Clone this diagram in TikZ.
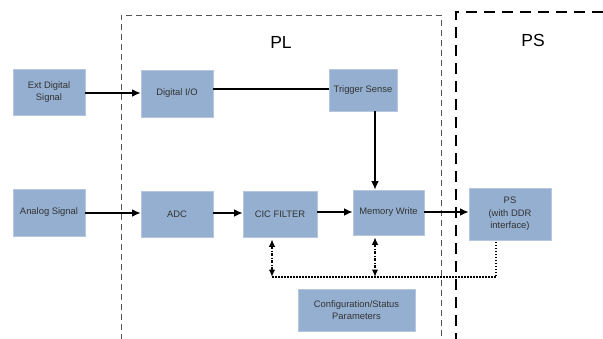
\documentclass[tikz,border=0pt]{standalone}
\usepackage{fontspec}
\setmainfont{Liberation Sans}
\usetikzlibrary{arrows.meta,calc}
\definecolor{boxblue}{HTML}{95AFD0}
\definecolor{boxedge}{HTML}{B5C6DE}
\definecolor{txt}{HTML}{333333}
\definecolor{plgray}{HTML}{555555}
\tikzset{
  blk/.style={fill=boxblue, draw=boxedge, line width=0.6pt, inner sep=0pt, align=center,
    text=txt, font=\fontsize{9.4}{12.5}\selectfont},
  flow/.style={line width=1.4pt, -{Latex[length=8.5pt,width=7.5pt]}},
  plain/.style={line width=1.4pt},
  ctl/.style={line width=1.4pt, dash pattern=on 3pt off 1.5pt on 1pt off 1.5pt,
    {Latex[length=7.5pt,width=6.5pt]}-{Latex[length=7.5pt,width=6.5pt]}},
  bus/.style={line width=1.4pt, dash pattern=on 1.5pt off 1.5pt},
  plframe/.style={draw=plgray, line width=0.8pt, dash pattern=on 6pt off 4pt},
  psframe/.style={draw=black, line width=1.6pt, dash pattern=on 11pt off 7pt},
  title/.style={font=\fontsize{17.5}{20}\selectfont, text=black}
}
\begin{document}
\begin{tikzpicture}[x=1pt,y=-1pt]
\useasboundingbox (0,0) rectangle (603,338);
% frames
\draw[plframe] (121,340) -- (121,15) -- (441,15) -- (441,340);
\draw[psframe] (603,12) -- (456,12) -- (456,340);
\node[title] (pl) at (281,42) {PL};
\node[title] (pst) at (533,40) {PS};
% blocks
\node[blk, minimum width=72pt, minimum height=46pt] (ext) at (49,92) {Ext Digital\\Signal};
\node[blk, minimum width=72pt, minimum height=47pt] (dio) at (177,93.5) {Digital I/O};
\node[blk, minimum width=68pt, minimum height=42pt] (trig) at (363,90) {Trigger Sense};
\node[blk, minimum width=72pt, minimum height=47pt] (ana) at (49,212.5) {Analog Signal};
\node[blk, minimum width=72pt, minimum height=46pt] (adc) at (177,214) {ADC};
\node[blk, minimum width=74pt, minimum height=46pt] (cic) at (280,214) {CIC FILTER};
\node[blk, minimum width=71pt, minimum height=45pt] (mw) at (388.5,212.5) {Memory Write};
\node[blk, minimum width=82pt, minimum height=52pt] (ps) at (510,214) {PS\\(with DDR\\interface)};
\node[blk, minimum width=117pt, minimum height=42pt] (cfg) at (356.5,310) {Configuration/Status\\Parameters};
% bus coordinates
\coordinate (b1) at (272,277);
\coordinate (b2) at (375,277);
\coordinate (b3) at (496,277);
% connectors
\draw[flow] (ext.east |- 0,93) -- (dio.west |- 0,93);
\draw[plain] (dio.east |- 0,89) -- (trig.west |- 0,89);
\draw[flow] (trig.south -| 375,0) -- (mw.north -| 375,0);
\draw[flow] (ana.east |- 0,213) -- (adc.west |- 0,213);
\draw[flow] (adc.east |- 0,213) -- (cic.west |- 0,213);
\draw[flow] (cic.east |- 0,212) -- (mw.west |- 0,212);
\draw[flow] (mw.east |- 0,212) -- (ps.west |- 0,212);
\draw[ctl] ($(cic.south -| b1)+(0,2)$) -- (b1);
\draw[ctl] ($(mw.south -| b2)+(0,2)$) -- (b2);
\draw[bus] (b1) -- (b3) -- (ps.south -| b3);
\end{tikzpicture}
\end{document}
